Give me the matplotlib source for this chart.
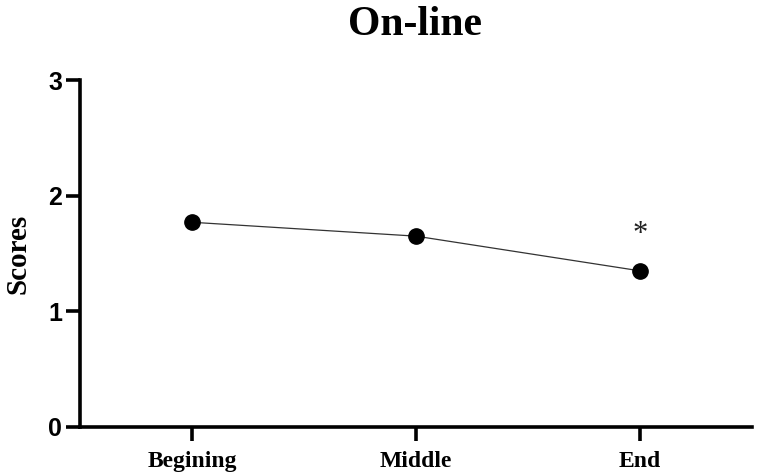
import matplotlib
matplotlib.use('Agg')
import matplotlib.pyplot as plt

stages = ['Begining', 'Middle', 'End']
scores = [1.77, 1.65, 1.35]
star_y = 1.60  # baseline of the significance mark above "End"

serif = ['Liberation Serif', 'DejaVu Serif']
sans = ['Liberation Sans', 'DejaVu Sans']

fig = plt.figure(figsize=(7.57, 4.74), dpi=100)
ax = fig.add_axes([0.1057, 0.0992, 0.8877, 0.7320])

x = list(range(len(stages)))
ax.plot(x, scores, color='#333333', linewidth=0.9, marker='o',
        markersize=11, markerfacecolor='black', markeredgecolor='black')
ax.text(x[2], star_y, '*', ha='center', va='baseline', fontsize=22,
        family=serif, color='#222222')

ax.set_xlim(-0.5, 2.5)
ax.set_ylim(0, 3)
ax.set_xticks(x)
ax.set_xticklabels(stages, family=serif, fontweight='bold', fontsize=17)
ax.set_yticks([0, 1, 2, 3])
ax.set_yticklabels(['0', '1', '2', '3'], family=sans, fontweight='bold', fontsize=18)

for side in ['top', 'right']:
    ax.spines[side].set_visible(False)
for side in ['left', 'bottom']:
    ax.spines[side].set_linewidth(2.6)
    ax.spines[side].set_color('black')
ax.tick_params(axis='y', length=10, width=2.6, pad=3)
ax.tick_params(axis='x', length=10, width=2.6, pad=7)

ax.set_ylabel('Scores', family=serif, fontweight='bold', fontsize=21, labelpad=12)
fig.text(0.548, 0.948, 'On-line', ha='center', va='center', family=serif,
         fontweight='bold', fontsize=30)

fig.savefig('out.png', dpi=100)
